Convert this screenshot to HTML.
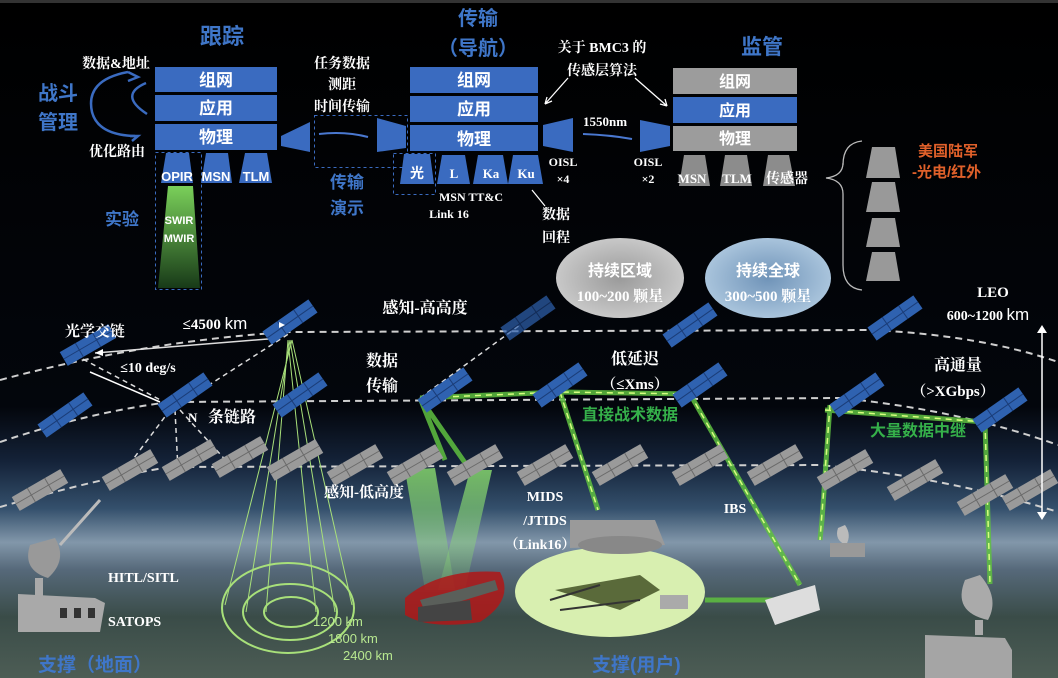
<!DOCTYPE html>
<html><head><meta charset="utf-8">
<style>
html,body{margin:0;padding:0;background:#000;}
svg{display:block;}
.w{fill:#fff;font-family:"Liberation Serif","Noto Serif CJK SC",serif;font-weight:bold;}
.ws{fill:#fff;font-family:"Liberation Sans","Noto Sans CJK SC",sans-serif;font-weight:bold;}
.b{fill:#3f76c8;font-family:"Liberation Sans","Noto Sans CJK SC",sans-serif;font-weight:bold;}
.g{fill:#35b04a;font-family:"Liberation Sans","Noto Sans CJK SC",sans-serif;font-weight:bold;}
</style></head><body>
<svg width="1058" height="678" viewBox="0 0 1058 678" xmlns="http://www.w3.org/2000/svg">
<defs>
<linearGradient id="sky" x1="0" y1="0" x2="0" y2="1">
<stop offset="0" stop-color="#000"/>
<stop offset="0.60" stop-color="#03060c"/>
<stop offset="0.68" stop-color="#142238"/>
<stop offset="0.75" stop-color="#34506c"/>
<stop offset="0.80" stop-color="#8297aa"/>
<stop offset="0.84" stop-color="#56697a"/>
<stop offset="0.91" stop-color="#3a4c48"/>
<stop offset="1" stop-color="#4d5d55"/>
</linearGradient>
<linearGradient id="beam" x1="0" y1="0" x2="0" y2="1">
<stop offset="0" stop-color="#7ad05a"/><stop offset="1" stop-color="#183a18"/>
</linearGradient>
<linearGradient id="vb" x1="0" y1="0" x2="0" y2="1">
<stop offset="0" stop-color="#8ce070" stop-opacity="0.8"/><stop offset="1" stop-color="#8ce070" stop-opacity="0.15"/>
</linearGradient>
<radialGradient id="o1"><stop offset="0" stop-color="#9a9a9a"/><stop offset="1" stop-color="#c8c8c8"/></radialGradient>
<radialGradient id="o2"><stop offset="0" stop-color="#6f93b8"/><stop offset="1" stop-color="#a9c4dc"/></radialGradient>
<g id="sb"><rect x="-28" y="-8" width="56" height="16" fill="#2f62b0"/><line x1="-28" y1="0" x2="28" y2="0" stroke="#1b3d78" stroke-width="1"/><line x1="-10" y1="-8" x2="-10" y2="8" stroke="#1b3d78"/><line x1="10" y1="-8" x2="10" y2="8" stroke="#1b3d78"/></g>
<g id="sg"><rect x="-28" y="-8" width="56" height="16" fill="#9a9a9a"/><line x1="-28" y1="0" x2="28" y2="0" stroke="#6a6a6a"/><line x1="-10" y1="-8" x2="-10" y2="8" stroke="#6a6a6a"/><line x1="10" y1="-8" x2="10" y2="8" stroke="#6a6a6a"/></g>
</defs>
<rect width="1058" height="678" fill="url(#sky)"/>
<rect x="0" y="0" width="1058" height="3" fill="#333"/>

<!-- ===== TOP: tracking ===== -->
<text x="222" y="44" class="b" font-size="22" text-anchor="middle">跟踪</text>
<text x="116" y="68" class="w" font-size="14" text-anchor="middle">数据&amp;地址</text>
<text x="58" y="100" class="b" font-size="20" text-anchor="middle">战斗</text>
<text x="58" y="129" class="b" font-size="20" text-anchor="middle">管理</text>
<text x="117" y="156" class="w" font-size="14" text-anchor="middle">优化路由</text>
<path d="M128 72 Q85 80 92 112 Q98 135 135 136" fill="none" stroke="#3a6bc0" stroke-width="2.5"/>
<path d="M128 72 l10 5 l-10 4" fill="none" stroke="#3a6bc0" stroke-width="2.5"/>
<path d="M130 136 l8 0 l-6 5" fill="none" stroke="#3a6bc0" stroke-width="2.5"/>
<path d="M146 83 Q118 95 147 114" fill="none" stroke="#3a6bc0" stroke-width="2.5"/>
<g font-size="17">
<rect x="155" y="67" width="122" height="25" fill="#3a6bc0"/><text x="216" y="86" class="ws" text-anchor="middle">组网</text>
<rect x="155" y="95" width="122" height="26" fill="#3a6bc0"/><text x="216" y="114" class="ws" text-anchor="middle">应用</text>
<rect x="155" y="124" width="122" height="26" fill="#3a6bc0"/><text x="216" y="143" class="ws" text-anchor="middle">物理</text>
</g>
<rect x="155.5" y="152.5" width="46" height="137" fill="none" stroke="#3a6bc0" stroke-dasharray="3,3"/>
<polygon points="166,153 189,153 193,183 161,183" fill="#3a6bc0"/>
<polygon points="206,153 228,153 232,183 201,183" fill="#3a6bc0"/>
<polygon points="245,153 267,153 272,183 239,183" fill="#3a6bc0"/>
<text x="177" y="181" class="ws" font-size="13" text-anchor="middle">OPIR</text>
<text x="216" y="181" class="ws" font-size="13" text-anchor="middle">MSN</text>
<text x="256" y="181" class="ws" font-size="13" text-anchor="middle">TLM</text>
<polygon points="168,186 193,186 200,288 158,288" fill="url(#beam)"/>
<text x="179" y="224" class="ws" font-size="11" text-anchor="middle" fill="#e8f0e0">SWIR</text>
<text x="179" y="242" class="ws" font-size="11" text-anchor="middle">MWIR</text>
<text x="122" y="225" class="b" font-size="17" text-anchor="middle">实验</text>

<polygon points="281,136 310,122 310,152 281,146" fill="#3a6bc0"/>
<rect x="314.5" y="115.5" width="93" height="52" fill="none" stroke="#3a6bc0" stroke-dasharray="3,3"/>
<path d="M319 134 Q345 131 368 137" stroke="#4a78d0" stroke-width="2" fill="none"/>
<polygon points="377,118 406,126 406,148 377,152" fill="#3a6bc0"/>
<text x="342" y="68" class="w" font-size="14" text-anchor="middle">任务数据</text>
<text x="342" y="89" class="w" font-size="14" text-anchor="middle">测距</text>
<text x="342" y="111" class="w" font-size="14" text-anchor="middle">时间传输</text>
<text x="347" y="188" class="b" font-size="17" text-anchor="middle">传输</text>
<text x="347" y="214" class="b" font-size="17" text-anchor="middle">演示</text>

<!-- ===== transport ===== -->
<text x="478" y="25" class="b" font-size="20" text-anchor="middle">传输</text>
<text x="478" y="55" class="b" font-size="20" text-anchor="middle">（导航）</text>
<g font-size="17">
<rect x="410" y="67" width="128" height="26" fill="#3a6bc0"/><text x="474" y="86" class="ws" text-anchor="middle">组网</text>
<rect x="410" y="96" width="128" height="26" fill="#3a6bc0"/><text x="474" y="115" class="ws" text-anchor="middle">应用</text>
<rect x="410" y="125" width="128" height="26" fill="#3a6bc0"/><text x="474" y="145" class="ws" text-anchor="middle">物理</text>
</g>
<rect x="393.5" y="153.5" width="42" height="41" fill="none" stroke="#3a6bc0" stroke-dasharray="3,3"/>
<polygon points="404,154 430,154 434,184 400,184" fill="#3a6bc0"/>
<polygon points="442,155 465,155 470,184 437,184" fill="#3a6bc0"/>
<polygon points="478,155 503,155 508,184 473,184" fill="#3a6bc0"/>
<polygon points="513,155 538,155 543,184 508,184" fill="#3a6bc0"/>
<text x="417" y="178" class="ws" font-size="14" text-anchor="middle">光</text>
<text x="454" y="178" class="w" font-size="13" text-anchor="middle">L</text>
<text x="491" y="178" class="w" font-size="13" text-anchor="middle">Ka</text>
<text x="526" y="178" class="w" font-size="13" text-anchor="middle">Ku</text>
<text x="471" y="201" class="w" font-size="12" text-anchor="middle">MSN TT&amp;C</text>
<text x="449" y="218" class="w" font-size="12" text-anchor="middle">Link 16</text>
<text x="556" y="219" class="w" font-size="14" text-anchor="middle">数据</text>
<text x="556" y="242" class="w" font-size="14" text-anchor="middle">回程</text>
<path d="M545 206 L532 190" stroke="#fff" stroke-width="1.2"/>

<text x="602" y="52" class="w" font-size="14" text-anchor="middle">关于 BMC3 的</text>
<text x="602" y="75" class="w" font-size="14" text-anchor="middle">传感层算法</text>
<path d="M568 78 L545 104 M545 104 l2 -7 M545 104 l7 -3" stroke="#fff" stroke-width="1.3" fill="none"/>
<path d="M635 78 L667 106 M667 106 l-7 -2 M667 106 l-2 -7" stroke="#fff" stroke-width="1.3" fill="none"/>
<polygon points="543,125 573,118 573,152 543,146" fill="#3a6bc0"/>
<text x="605" y="126" class="w" font-size="13" text-anchor="middle">1550nm</text>
<path d="M583 134 Q610 135 632 139" stroke="#4a78d0" stroke-width="2" fill="none"/>
<polygon points="640,120 670,126 670,146 640,152" fill="#3a6bc0"/>
<text x="563" y="166" class="w" font-size="12" text-anchor="middle">OISL</text>
<text x="563" y="183" class="w" font-size="12" text-anchor="middle">×4</text>
<text x="648" y="166" class="w" font-size="12" text-anchor="middle">OISL</text>
<text x="648" y="183" class="w" font-size="12" text-anchor="middle">×2</text>

<!-- ===== supervision ===== -->
<text x="762" y="54" class="b" font-size="21" text-anchor="middle">监管</text>
<g font-size="16">
<rect x="673" y="68" width="124" height="26" fill="#9c9c9c"/><text x="735" y="87" class="ws" text-anchor="middle">组网</text>
<rect x="673" y="97" width="124" height="26" fill="#3a6bc0"/><text x="735" y="116" class="ws" text-anchor="middle">应用</text>
<rect x="673" y="126" width="124" height="25" fill="#9c9c9c"/><text x="735" y="144" class="ws" text-anchor="middle">物理</text>
</g>
<polygon points="684,155 705,155 710,186 679,186" fill="#8c8c8c"/>
<polygon points="725,155 747,155 752,186 720,186" fill="#8c8c8c"/>
<polygon points="768,155 789,155 795,186 763,186" fill="#8c8c8c"/>
<text x="692" y="183" class="w" font-size="13" text-anchor="middle">MSN</text>
<text x="737" y="183" class="w" font-size="13" text-anchor="middle">TLM</text>
<text x="787" y="183" class="w" font-size="14" text-anchor="middle">传感器</text>
<path d="M862 141 Q843 143 843 165 L843 163 Q843 176 826 178 Q843 180 843 194 L843 265 Q843 288 862 290" fill="none" stroke="#bbb" stroke-width="1.3"/>
<polygon points="872,147 895,147 900,178 866,178" fill="#999"/>
<polygon points="872,182 895,182 900,212 866,212" fill="#999"/>
<polygon points="872,218 895,218 900,247 866,247" fill="#999"/>
<polygon points="872,252 895,252 900,281 866,281" fill="#999"/>
<text x="918" y="156" font-size="15" font-weight="bold" fill="#e0602a" font-family="Liberation Sans,Noto Sans CJK SC,sans-serif">美国陆军</text>
<text x="912" y="177" font-size="15" font-weight="bold" fill="#e0602a" font-family="Liberation Sans,Noto Sans CJK SC,sans-serif">-光电/红外</text>

<ellipse cx="620" cy="278" rx="64" ry="40" fill="url(#o1)"/>
<ellipse cx="768" cy="278" rx="63" ry="40" fill="url(#o2)"/>
<text x="620" y="276" class="ws" font-size="16" text-anchor="middle">持续区域</text>
<text x="620" y="301" class="w" font-size="15" text-anchor="middle">100~200 颗星</text>
<text x="768" y="276" class="ws" font-size="16" text-anchor="middle">持续全球</text>
<text x="768" y="301" class="w" font-size="15" text-anchor="middle">300~500 颗星</text>

<!-- ===== orbits ===== -->
<g fill="none" stroke="#cfcfcf" stroke-width="2" stroke-dasharray="7,5">
<path d="M0 380 Q150 340 290 332 L870 330 Q980 335 1058 362"/>
<path d="M0 442 Q90 412 170 402 L840 398 Q960 410 1058 445"/>
<path d="M0 507 Q100 478 170 467 L820 465 Q950 478 1058 512"/>
</g>
<g stroke="#ddd" stroke-width="1.5" stroke-dasharray="5,4" fill="none">
<path d="M170 410 L110 490 M175 410 L178 470 M180 410 L230 465 M170 410 L290 333 M75 355 L170 405 M420 398 L520 325"/>
</g>
<path d="M100 500 L60 545" stroke="#bbb" stroke-width="3"/>
<path d="M280 338 L95 353" stroke="#ddd" stroke-width="1.5"/>
<path d="M95 353 l8 -4 l0 7z" fill="#fff"/>
<path d="M90 372 L160 402" stroke="#fff" stroke-width="1.5"/>

<g stroke="#a8e07a" stroke-width="1" fill="none">
<line x1="292" y1="340" x2="225" y2="605"/><line x1="292" y1="340" x2="352" y2="605"/>
<line x1="290" y1="340" x2="246" y2="612"/><line x1="290" y1="340" x2="335" y2="612"/>
<line x1="288" y1="340" x2="266" y2="612"/><line x1="288" y1="340" x2="316" y2="612"/>
<ellipse cx="288" cy="608" rx="66" ry="45" stroke-width="2"/>
<ellipse cx="290" cy="612" rx="47" ry="28" stroke-width="2"/>
<ellipse cx="291" cy="612" rx="27" ry="15" stroke-width="2"/>
</g>
<g font-family="Liberation Sans,sans-serif" font-size="13" fill="#b8e890">
<text x="313" y="626">1200 km</text><text x="328" y="643">1800 km</text><text x="343" y="660">2400 km</text>
</g>

<g stroke="#5fc040" stroke-width="5" fill="none" opacity="0.85">
<path d="M420 398 L560 392 L690 394"/>
<path d="M420 398 L470 470 M420 398 L445 460"/>
<path d="M560 392 L598 510"/>
<path d="M690 394 L800 585"/>
<path d="M825 410 L985 422"/>
<path d="M830 405 L822 520 L820 540"/>
<path d="M985 422 L990 584"/>
<path d="M705 600 L800 600"/>
</g>
<g stroke="#d8ff80" stroke-width="1.5" stroke-dasharray="6,5" fill="none">
<path d="M420 398 L560 392 L690 394"/><path d="M560 392 L598 510"/><path d="M690 394 L800 585"/><path d="M825 410 L985 422"/><path d="M985 422 L990 584"/><path d="M830 405 L820 540"/>
</g>
<polygon points="405,470 435,468 455,590 425,590" fill="url(#vb)"/>
<polygon points="470,470 492,470 465,590 438,590" fill="url(#vb)"/>

<g>
<use href="#sb" transform="translate(88,345) rotate(-30)"/>
<use href="#sb" transform="translate(290,322) rotate(-35)"/>
<use href="#sb" transform="translate(185,395) rotate(-35)"/>
<use href="#sb" transform="translate(65,415) rotate(-35)"/>
<use href="#sb" transform="translate(300,395) rotate(-35)"/>
<use href="#sb" transform="translate(445,390) rotate(-35)"/>
<use href="#sb" transform="translate(560,385) rotate(-35)"/>
<use href="#sb" transform="translate(690,325) rotate(-35)"/>
<use href="#sb" transform="translate(700,385) rotate(-35)"/>
<use href="#sb" transform="translate(895,318) rotate(-35)"/>
<use href="#sb" transform="translate(857,395) rotate(-35)"/>
<use href="#sb" transform="translate(1000,410) rotate(-35)"/>
<use href="#sb" transform="translate(528,318) rotate(-35)" opacity="0.7"/>
<use href="#sg" transform="translate(40,490) rotate(-30)"/>
<use href="#sg" transform="translate(130,470) rotate(-30)"/>
<use href="#sg" transform="translate(190,460) rotate(-30)"/>
<use href="#sg" transform="translate(240,457) rotate(-30)"/>
<use href="#sg" transform="translate(295,460) rotate(-30)"/>
<use href="#sg" transform="translate(355,465) rotate(-30)"/>
<use href="#sg" transform="translate(415,465) rotate(-30)"/>
<use href="#sg" transform="translate(475,465) rotate(-30)"/>
<use href="#sg" transform="translate(545,465) rotate(-30)"/>
<use href="#sg" transform="translate(620,465) rotate(-30)"/>
<use href="#sg" transform="translate(700,465) rotate(-30)"/>
<use href="#sg" transform="translate(775,465) rotate(-30)"/>
<use href="#sg" transform="translate(845,470) rotate(-30)"/>
<use href="#sg" transform="translate(915,480) rotate(-30)"/>
<use href="#sg" transform="translate(985,495) rotate(-30)"/>
<use href="#sg" transform="translate(1030,490) rotate(-30)"/>
</g>

<line x1="1042" y1="330" x2="1042" y2="515" stroke="#fff" stroke-width="1.5"/>
<path d="M1037 333 l5 -8 l5 8z M1037 512 l5 8 l5 -8z" fill="#fff"/>

<ellipse cx="610" cy="592" rx="95" ry="45" fill="#d8efb0"/>
<path d="M555 590 L640 575 L660 590 L620 610 Z" fill="#5a6a3a"/>
<path d="M550 600 L600 585 M560 610 L640 600" stroke="#333" stroke-width="2"/>
<rect x="660" y="595" width="28" height="14" fill="#aaa"/>
<path d="M570 520 L655 520 L665 545 L570 548 Z" fill="#9a9a9a"/>
<ellipse cx="620" cy="545" rx="42" ry="9" fill="#888"/>
<path d="M405 598 Q440 568 500 572 Q515 600 480 622 Q430 630 405 615 Z" fill="#b01818" opacity="0.85"/>
<path d="M420 600 L495 580 L498 590 L425 612 Z" fill="#5a5f5a"/>
<path d="M418 607 L470 600 L472 620 L418 622 Z" fill="#444"/>
<path d="M765 600 L815 585 L820 610 L775 625 Z" fill="#ddd"/>
<path d="M30 545 Q22 570 48 578 Q68 560 55 538 Z" fill="#999"/>
<rect x="35" y="578" width="8" height="18" fill="#aaa"/>
<path d="M18 594 L95 598 L105 603 L100 632 L18 632 Z" fill="#a9a9a9"/>
<rect x="60" y="608" width="7" height="10" fill="#333"/><rect x="74" y="608" width="7" height="10" fill="#333"/><rect x="88" y="608" width="7" height="10" fill="#333"/>
<path d="M838 528 Q834 540 846 545 Q852 535 845 525 Z" fill="#bbb"/>
<rect x="830" y="543" width="35" height="14" fill="#999"/>
<path d="M965 580 Q952 612 988 620 Q1000 598 980 575 Z" fill="#aaa"/>
<rect x="975" y="620" width="8" height="15" fill="#aaa"/>
<path d="M925 635 L1005 638 L1012 650 L1012 678 L925 678 Z" fill="#a5a5a5"/>

<text x="95" y="336" class="w" font-size="15" text-anchor="middle">光学交链</text>
<text x="215" y="329" class="w" font-size="15" text-anchor="middle">≤4500 <tspan font-family="Liberation Sans" font-weight="normal" font-size="17">km</tspan></text>
<path d="M279 322 l6 3 l-6 3z" fill="#fff"/>
<text x="148" y="372" class="w" font-size="14" text-anchor="middle">≤10 deg/s</text>
<text x="425" y="313" class="w" font-size="16" text-anchor="middle">感知-高高度</text>
<text x="382" y="366" class="w" font-size="16" text-anchor="middle">数据</text>
<text x="382" y="391" class="w" font-size="16" text-anchor="middle">传输</text>
<text x="188" y="422" class="w" font-size="13">N</text>
<text x="208" y="422" class="w" font-size="16">条链路</text>
<text x="364" y="497" class="w" font-size="15" text-anchor="middle">感知-低高度</text>
<text x="635" y="364" class="w" font-size="16" text-anchor="middle">低延迟</text>
<text x="635" y="389" class="w" font-size="15" text-anchor="middle">（≤Xms）</text>
<text x="630" y="420" class="g" font-size="16" text-anchor="middle">直接战术数据</text>
<text x="958" y="370" class="w" font-size="16" text-anchor="middle">高通量</text>
<text x="953" y="396" class="w" font-size="15" text-anchor="middle">（&gt;XGbps）</text>
<text x="918" y="436" class="g" font-size="16" text-anchor="middle">大量数据中继</text>
<text x="993" y="297" class="w" font-size="15" text-anchor="middle">LEO</text>
<text x="988" y="320" class="w" font-size="14" text-anchor="middle">600~1200 <tspan font-family="Liberation Sans" font-weight="normal" font-size="17">km</tspan></text>
<text x="545" y="501" class="w" font-size="14" text-anchor="middle">MIDS</text>
<text x="545" y="525" class="w" font-size="14" text-anchor="middle">/JTIDS</text>
<text x="540" y="549" class="w" font-size="14" text-anchor="middle">（Link16）</text>
<text x="735" y="513" class="w" font-size="14" text-anchor="middle">IBS</text>
<text x="108" y="582" class="w" font-size="14">HITL/SITL</text>
<text x="108" y="626" class="w" font-size="14">SATOPS</text>
<text x="38" y="671" class="b" font-size="19" fill="#5a90d8">支撑（地面）</text>
<text x="592" y="671" class="b" font-size="19" fill="#5a90d8">支撑(用户)</text>
</svg>
</body></html>
